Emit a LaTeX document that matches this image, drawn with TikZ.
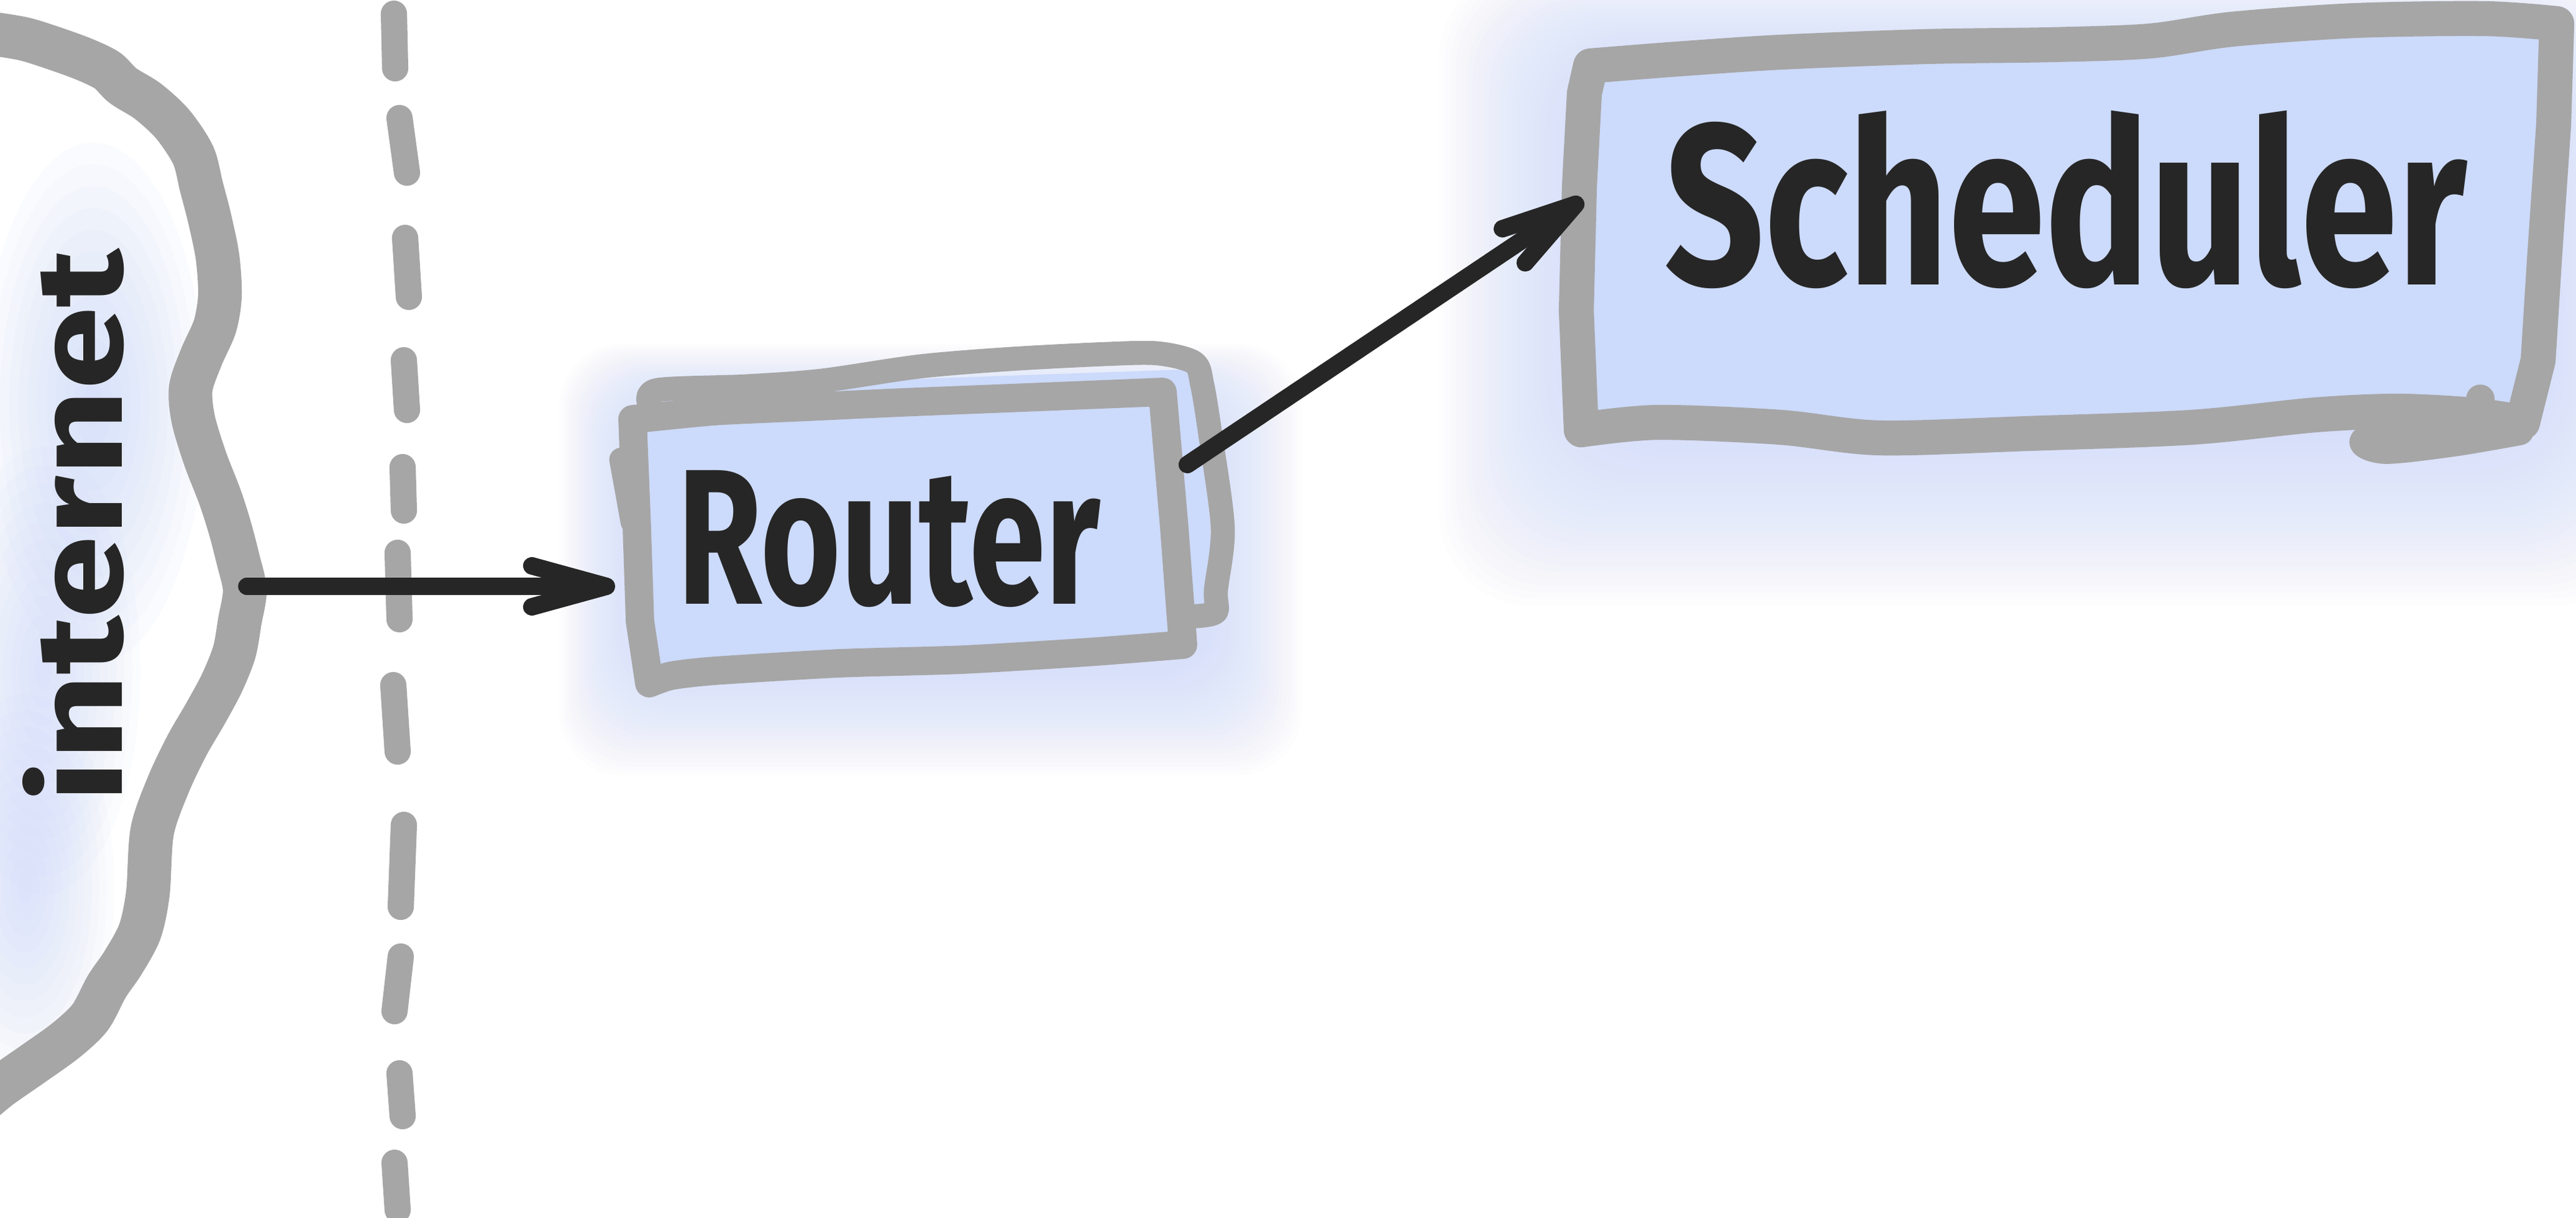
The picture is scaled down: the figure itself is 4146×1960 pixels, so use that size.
\documentclass[tikz,border=0pt]{standalone}
\usepackage{fontspec}
\usepackage{graphicx}
\setmainfont{Fira Sans}
\usetikzlibrary{arrows.meta}
\definecolor{edge}{HTML}{A6A6A6}
\definecolor{boxfill}{HTML}{CCDAFB}
\definecolor{glowc}{HTML}{C4D3FA}
\definecolor{ink}{HTML}{262626}
\begin{document}
\begin{tikzpicture}[x=0.01cm,y=-0.01cm,
  border/.style={draw=edge,line width=13pt,line cap=round,line join=round},
  dashseg/.style={draw=edge,line width=12pt,line cap=round},
  conn/.style={draw=ink,line width=8pt,line cap=round,-{Straight Barb[length=1.2cm,width=0.66cm,round]}},
  txt/.style={text=ink,inner sep=0pt,font=\bfseries}
]
\useasboundingbox (0,0) rectangle (4146,1960);
\fill[white] (0,0) rectangle (4146,1960);

% glows
\foreach \i in {1,...,24} \fill[glowc,opacity=0.03,rounded corners=1cm] ({1020-\i*5},{650-\i*4}) rectangle ({1950+\i*6},{1080+\i*7});
\foreach \i in {1,...,26} \fill[glowc,opacity=0.03,rounded corners=1.5cm] ({2550-\i*9},{100-\i*6}) rectangle ({4100+\i*6},{690+\i*11});

% internet cloud
\begin{scope}
\clip (-40,50) -- plot[smooth,tension=0.5] coordinates {(0,56)(40,63)(79,75)(132,94)(172,113)(198,138)(238,163)(278,200)(311,250)(324,300)(337,350)(350,413)(354,475)(346,525)(324,575)(307,625)(311,675)(330,738)(354,800)(370,850)(383,900)(394,950)(386,1000)(377,1050)(357,1100)(330,1150)(301,1200)(271,1263)(245,1338)(238,1438)(225,1500)(198,1550)(172,1588)(145,1638)(106,1675)(53,1713)(0,1750)} -- (-40,1780) -- cycle;
\foreach \i in {1,...,12} {
  \fill[glowc,opacity=0.07] (150,650) ellipse ({\i*0.15cm} and {\i*0.35cm});
  \fill[glowc,opacity=0.06] (70,1080) ellipse ({\i*0.13cm} and {\i*0.3cm});
  \fill[glowc,opacity=0.06] (40,1430) ellipse ({\i*0.12cm} and {\i*0.26cm});
}
\end{scope}
\draw[border,line width=20pt] plot[smooth,tension=0.5] coordinates {(-30,52)(0,56)(40,63)(79,75)(132,94)(172,113)(198,138)(238,163)(278,200)(311,250)(324,300)(337,350)(350,413)(354,475)(346,525)(324,575)(307,625)(311,675)(330,738)(354,800)(370,850)(383,900)(394,950)(386,1000)(377,1050)(357,1100)(330,1150)(301,1200)(271,1263)(245,1338)(238,1438)(225,1500)(198,1550)(172,1588)(145,1638)(106,1675)(53,1713)(0,1750)(-30,1775)};

% dashed boundary
\draw[dashseg] (634,22) -- (636,110);
\draw[dashseg] (643,190) -- (655,278);
\draw[dashseg] (652,383) -- (658,478);
\draw[dashseg] (650,580) -- (655,660);
\draw[dashseg] (648,752) -- (650,822);
\draw[dashseg] (640,890) -- (643,997);
\draw[dashseg] (633,1103) -- (640,1210);
\draw[dashseg] (650,1328) -- (645,1460);
\draw[dashseg] (645,1540) -- (635,1628);
\draw[dashseg] (643,1728) -- (648,1797);
\draw[dashseg] (635,1872) -- (640,1948);

% router box
\fill[boxfill] (1058,625) -- (1930,594) -- (1957,988) -- (1058,1000) -- cycle;
\draw[border,line width=11pt] plot[smooth,tension=0.5] coordinates {(1045,650)(1058,628)(1200,622)(1322,613)(1480,590)(1626,578)(1780,570)(1864,569)(1922,584)(1935,620)(1948,700)(1968,850)(1957,950)(1957,985)(1925,992)};
\draw[border,fill=boxfill] plot[smooth,tension=0.4] coordinates {(1018,675)(1150,662)(1300,655)(1450,648)(1650,640)(1871,631)} -- (1890,850) -- (1904,1038) -- plot[smooth,tension=0.4] coordinates {(1904,1038)(1750,1050)(1550,1062)(1350,1068)(1150,1080)(1080,1088)(1045,1100)} -- (1030,1000) -- (1025,850) -- cycle;
\draw[border,line width=11pt] (1000,740) -- (1018,840);

% scheduler box
\draw[border,line width=16pt,fill=boxfill] plot[smooth,tension=0.5] coordinates {(2560,106)(2700,95)(2866,84)(3100,75)(3300,72)(3460,66)(3593,47)(3792,33)(4000,30)(4115,38)} -- (4110,200) -- (4095,420) -- (4085,580) -- (4060,680) -- plot[smooth,tension=0.5] coordinates {(4060,680)(3977,668)(3858,662)(3726,668)(3527,688)(3263,698)(3025,705)(2866,688)(2668,680)(2545,692)} -- (2537,500) -- (2542,300) -- (2550,150) -- cycle;
\draw[border,line width=13pt] plot[smooth,tension=0.5] coordinates {(3992,642)(3975,672)(3880,692)(3805,710)(3840,724)(3950,712)(4055,694)};

% nodes
\node[txt,rotate=90] (inettext) at (118,847) {\resizebox{8.9cm}{1.6cm}{internet}};
\node[inner sep=0pt,minimum width=3.97cm,minimum height=17cm] (inet) at (198,944) {};
\node[txt,minimum width=8.8cm,minimum height=4.2cm] (router) at (1431,868) {\resizebox{6.8cm}{2.15cm}{Router}};
\node[txt,minimum width=15.52cm,minimum height=6cm] (sched) at (3325,321) {\resizebox{12.9cm}{2.8cm}{Scheduler}};

% connectors
\draw[conn] (inet.east) -- (inet.east -| router.west);
\draw[conn] ([shift={(0.39cm,1.2cm)}]router.east) -- (sched.west);
\end{tikzpicture}
\end{document}
